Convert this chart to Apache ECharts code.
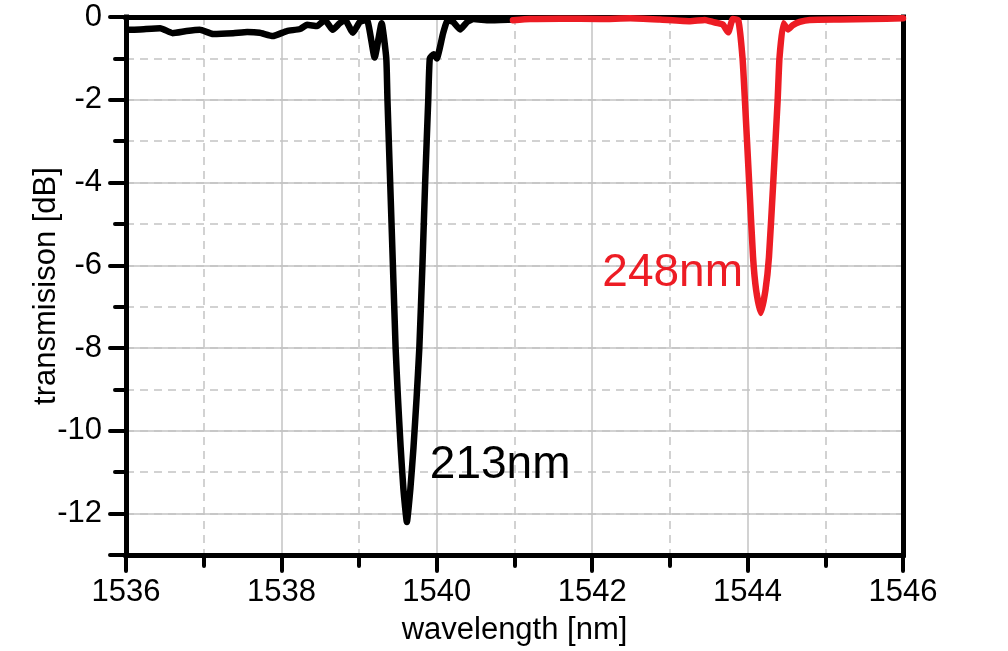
<!DOCTYPE html>
<html>
<head>
<meta charset="utf-8">
<script src="https://cdn.jsdelivr.net/npm/echarts@6/dist/echarts.min.js"></script>
<style>
  html, body { margin: 0; padding: 0; background: #fff; }
  #chart { width: 1008px; height: 651px; }
</style>
</head>
<body>
<div id="chart"></div>
<script>
// black trace (213nm)
const blackWl = [1536.03, 1536.18, 1536.44, 1536.60, 1536.78, 1536.95, 1537.12, 1537.38, 1537.56, 1537.72,
  1537.89, 1538.07, 1538.24, 1538.33, 1538.46, 1538.56, 1538.66, 1538.75, 1538.82, 1538.92,
  1539.01, 1539.10, 1539.20, 1539.29, 1539.35, 1539.365, 1539.40, 1539.435, 1539.47, 1539.50,
  1539.535, 1539.57, 1539.615, 1539.66, 1539.70, 1539.74, 1539.775, 1539.815, 1539.85, 1539.89,
  1539.91, 1539.96, 1540.00, 1540.08, 1540.14, 1540.21, 1540.30, 1540.39, 1540.47, 1540.68,
  1540.98]
const blackDb = [-0.31, -0.30, -0.27, -0.39, -0.34, -0.31, -0.41, -0.39, -0.36, -0.38,
  -0.46, -0.34, -0.29, -0.19, -0.22, -0.07, -0.31, -0.15, -0.07, -0.38,
  -0.12, -0.07, -0.98, -0.15, -1.0, -2.0, -4.0, -6.0, -8.0, -9.2,
  -10.4, -11.4, -12.2, -11.4, -10.4, -9.2, -8.0, -6.0, -4.0, -2.0,
  -1.0, -0.9, -1.0, -0.4, -0.08, -0.12, -0.3, -0.12, -0.05, -0.08,
  -0.06]

// red trace (248nm)
const redWl = [1540.98, 1541.20, 1541.59, 1542.10, 1542.49, 1542.87, 1543.26, 1543.45, 1543.55, 1543.68,
  1543.75, 1543.81, 1543.88, 1543.935, 1543.965, 1544.02, 1544.07, 1544.11, 1544.17, 1544.23,
  1544.275, 1544.33, 1544.387, 1544.41, 1544.46, 1544.52, 1544.58, 1544.67, 1544.80, 1545.19,
  1545.58, 1546.00]
const redDb = [-0.08, -0.05, -0.04, -0.05, -0.03, -0.06, -0.10, -0.07, -0.12, -0.18,
  -0.37, -0.05, -0.08, -1.0, -2.0, -4.0, -5.8, -6.6, -7.15, -6.6,
  -5.8, -4.0, -2.0, -1.0, -0.15, -0.3, -0.2, -0.12, -0.07, -0.06,
  -0.05, -0.03]

// annotations
const annoText = ['213nm', '248nm']
const annoWl = [1539.91, 1542.13]
const annoDb = [-10.84, -6.2]

const FONT = 'Liberation Sans, Arial, sans-serif'
const RED = '#ed1c24'
const GRID_GRAY = '#c3c3c3'

const pairs = (xs, ys) => xs.map((x, i) => [x, ys[i]])

const chart = echarts.init(document.getElementById('chart'), null, { renderer: 'canvas' })

const frameLine = { lineStyle: { color: '#000', width: 5, cap: 'square' } }

const option = {
  animation: false,
  backgroundColor: '#fff',
  textStyle: { fontFamily: FONT },
  grid: { left: 126, right: 105, top: 17, bottom: 95, containLabel: false },
  xAxis: [
    {
      type: 'value',
      min: 1536,
      max: 1546,
      interval: 2,
      name: 'wavelength [nm]',
      nameLocation: 'middle',
      nameGap: 60,
      nameMoveOverlap: false,
      nameTextStyle: { fontSize: 31, color: '#000', fontFamily: FONT },
      axisLine: { show: true, onZero: false, ...frameLine },
      axisTick: { show: true, length: 16, lineStyle: { color: '#000', width: 4, cap: 'round' } },
      minorTick: { show: true, splitNumber: 2, length: 11, lineStyle: { color: '#000', width: 4, cap: 'round' } },
      axisLabel: { fontSize: 31, color: '#000', margin: 22, fontFamily: FONT, formatter: v => String(v) },
      splitLine: { show: true, showMinLine: false, showMaxLine: false, lineStyle: { color: GRID_GRAY, width: 1.5 } },
      minorSplitLine: { show: true, lineStyle: { color: GRID_GRAY, width: 1.5, type: [8, 6] } }
    },
    {
      // top frame
      type: 'value', position: 'top', min: 1536, max: 1546, z: 1,
      axisLine: { show: true, onZero: false, ...frameLine },
      axisTick: { show: false }, axisLabel: { show: false }, splitLine: { show: false }
    }
  ],
  yAxis: [
    {
      type: 'value',
      min: -13,
      max: 0,
      interval: 1,
      name: 'transmisison [dB]',
      nameLocation: 'middle',
      nameGap: 64,
      nameMoveOverlap: false,
      nameTextStyle: { fontSize: 31, color: '#000', fontFamily: FONT },
      axisLine: { show: true, onZero: false, ...frameLine },
      axisTick: { show: true, length: 11, lineStyle: { color: '#000', width: 4, cap: 'round' } },
      axisLabel: {
        fontSize: 31, color: '#000', margin: 24, fontFamily: FONT,
        formatter: v => (v % 2 === 0 ? String(v) : '')
      },
      splitLine: { show: true, showMinLine: false, showMaxLine: false, lineStyle: { color: GRID_GRAY, width: 1.5, type: [8, 6] } }
    },
    {
      // even dB steps: solid grid lines and longer ticks
      type: 'value', position: 'left', inverse: true, min: 0, max: 13, interval: 2,
      axisLine: { show: false },
      axisTick: { show: true, length: 16, lineStyle: { color: '#000', width: 4, cap: 'round' } },
      axisLabel: { show: false },
      splitLine: { show: true, showMinLine: false, showMaxLine: false, lineStyle: { color: GRID_GRAY, width: 1.5 } }
    },
    {
      // right frame
      type: 'value', position: 'right', min: -13, max: 0, z: 1,
      axisLine: { show: true, onZero: false, ...frameLine },
      axisTick: { show: false }, axisLabel: { show: false }, splitLine: { show: false }
    }
  ],
  series: [
    {
      type: 'line',
      name: '213nm',
      xAxisIndex: 0,
      yAxisIndex: 0,
      data: pairs(blackWl, blackDb),
      showSymbol: false,
      smooth: 0.15,
      lineStyle: { color: '#000', width: 6.5, join: 'round', cap: 'round' },
      markPoint: {
        symbol: 'circle',
        symbolSize: 0,
        data: [{ name: annoText[0], coord: [annoWl[0], annoDb[0]] }],
        label: { show: true, position: 'right', distance: 0, formatter: '{b}', fontSize: 46, color: '#000', fontFamily: FONT }
      }
    },
    {
      type: 'line',
      name: '248nm',
      xAxisIndex: 0,
      yAxisIndex: 0,
      data: pairs(redWl, redDb),
      showSymbol: false,
      smooth: 0.15,
      lineStyle: { color: RED, width: 6.5, join: 'round', cap: 'round' },
      markPoint: {
        symbol: 'circle',
        symbolSize: 0,
        data: [{ name: annoText[1], coord: [annoWl[1], annoDb[1]] }],
        label: { show: true, position: 'right', distance: 0, formatter: '{b}', fontSize: 46, color: RED, fontFamily: FONT }
      }
    }
  ]
}

chart.setOption(option)
</script>
</body>
</html>
